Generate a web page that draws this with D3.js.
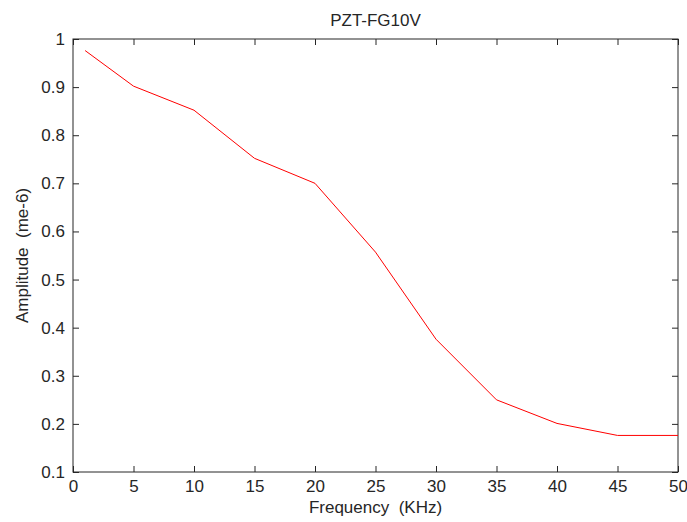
<!DOCTYPE html>
<html>
<head>
<meta charset="utf-8">
<script src="https://cdn.jsdelivr.net/npm/d3@7"></script>
<style>
  body { margin: 0; background: #fff; }
  text { font-family: "Liberation Sans", Arial, sans-serif; fill: #262626; }
</style>
</head>
<body>
<div id="chart"></div>
<script>
const frequency = [1, 5, 10, 15, 20, 25, 30, 35, 40, 45, 50];
const amplitude = [0.976, 0.902, 0.852, 0.752, 0.70, 0.557, 0.376, 0.25, 0.201, 0.176, 0.176];
const xTicks = [0, 5, 10, 15, 20, 25, 30, 35, 40, 45, 50];
const yTicks = [0.1, 0.2, 0.3, 0.4, 0.5, 0.6, 0.7, 0.8, 0.9, 1];

const W = 687, H = 522;
const margin = { top: 39, right: 9, bottom: 50, left: 73 };
const width = W - margin.left - margin.right;
const height = H - margin.top - margin.bottom;
const fontSize = "17px";

const x = d3.scaleLinear().domain([0, 50]).range([0, width]);
const y = d3.scaleLinear().domain([0.1, 1]).range([height, 0]);

const svg = d3.select("#chart").append("svg")
    .attr("width", W)
    .attr("height", H);

const g = svg.append("g")
    .attr("transform", "translate(" + margin.left + "," + margin.top + ")");

const fmt = d => String(+d.toFixed(1));

// axes, ticks pointing inward, mirrored on top/right
const styleAxis = sel => {
    sel.select(".domain").remove();
    sel.selectAll(".tick line").attr("stroke", "#262626");
    sel.selectAll("text").style("font-size", fontSize);
};

g.append("g")
    .attr("transform", "translate(0," + height + ")")
    .call(d3.axisBottom(x).tickValues(xTicks).tickSize(-6).tickPadding(8).tickFormat(fmt))
    .call(styleAxis);

g.append("g")
    .call(d3.axisTop(x).tickValues(xTicks).tickSize(-6).tickFormat(""))
    .call(styleAxis);

g.append("g")
    .call(d3.axisLeft(y).tickValues(yTicks).tickSize(-6).tickPadding(8).tickFormat(fmt))
    .call(styleAxis);

g.append("g")
    .attr("transform", "translate(" + width + ",0)")
    .call(d3.axisRight(y).tickValues(yTicks).tickSize(-6).tickFormat(""))
    .call(styleAxis);

g.append("rect")
    .attr("width", width)
    .attr("height", height)
    .attr("fill", "none")
    .attr("stroke", "#262626")
    .attr("stroke-width", 1);

// data line
const line = d3.line()
    .x((d, i) => x(frequency[i]))
    .y(d => y(d));

g.append("path")
    .datum(amplitude)
    .attr("fill", "none")
    .attr("stroke", "#ff0000")
    .attr("stroke-width", 1)
    .attr("d", line);

// title and labels
svg.append("text")
    .attr("x", margin.left + width / 2)
    .attr("y", 26)
    .attr("text-anchor", "middle")
    .style("font-size", fontSize)
    .text("PZT-FG10V");

svg.append("text")
    .attr("x", margin.left + width / 2)
    .attr("y", 513)
    .attr("text-anchor", "middle")
    .style("font-size", fontSize)
    .style("white-space", "pre")
    .text("Frequency  (KHz)");

svg.append("text")
    .attr("transform", "translate(28," + (margin.top + height / 2) + ") rotate(-90)")
    .attr("text-anchor", "middle")
    .style("font-size", fontSize)
    .style("white-space", "pre")
    .text("Amplitude  (me-6)");
</script>
</body>
</html>
